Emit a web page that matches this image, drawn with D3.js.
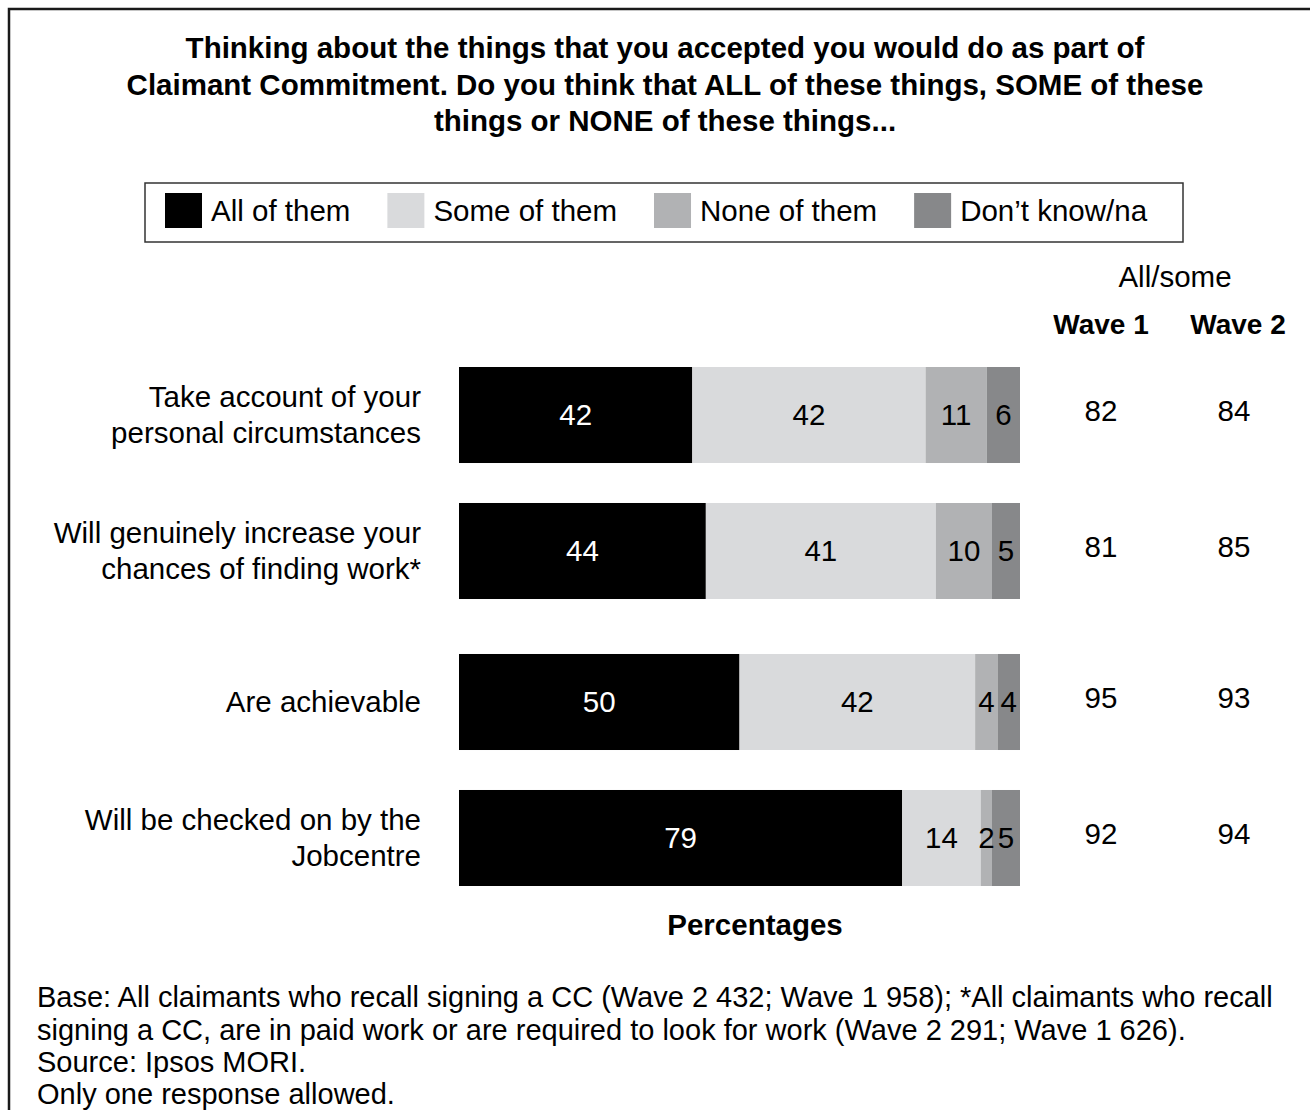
<!DOCTYPE html>
<html>
<head>
<meta charset="utf-8">
<script src="https://cdn.jsdelivr.net/npm/d3@7"></script>
<style>
  html, body { margin: 0; padding: 0; background: #fff; }
  svg { display: block; }
  text { font-family: "Liberation Sans", Arial, Helvetica, sans-serif; fill: #000; }
</style>
</head>
<body>
<svg id="chart" width="1310" height="1110"></svg>
<script>
// ---- data ----
const titleLines = [
  "Thinking about the things that you accepted you would do as part of",
  "Claimant Commitment. Do you think that ALL of these things, SOME of these",
  "things or NONE of these things..."
];
const categoryLines = [
  ["Take account of your", "personal circumstances"],
  ["Will genuinely increase your", "chances of finding work*"],
  ["Are achievable"],
  ["Will be checked on by the", "Jobcentre"]
];
const groups = ["a", "a", "b", "b"];
const seriesKeys = ["All of them", "Some of them", "None of them", "Don\u2019t know/na"];
const allOfThem  = [42, 44, 50, 79];
const someOfThem = [42, 41, 42, 14];
const noneOfThem = [11, 10, 4, 2];
const dontKnow   = [6, 5, 4, 5];
const wave1 = [82, 81, 95, 92];
const wave2 = [84, 85, 93, 94];
const waveHeaders = ["Wave 1", "Wave 2"];
const footnoteLines = [
  "Base: All claimants who recall signing a CC (Wave 2 432; Wave 1 958); *All claimants who recall",
  "signing a CC, are in paid work or are required to look for work (Wave 2 291; Wave 1 626).",
  "Source: Ipsos MORI.",
  "Only one response allowed."
];
const colours = ["#000000", "#d9dadc", "#b1b2b4", "#87888a"];

// ---- layout ----
const svg = d3.select("#chart");
const FS = 29.5;

// outer frame
svg.append("rect")
  .attr("x", 9).attr("y", 9).attr("width", 1400).attr("height", 1200)
  .attr("fill", "none").attr("stroke", "#1a1a1a").attr("stroke-width", 2.5);

// title
svg.append("g").selectAll("text").data(titleLines).join("text")
  .attr("x", 665).attr("y", (d, i) => 48 + i * 36.5)
  .attr("dy", "0.35em").attr("text-anchor", "middle")
  .attr("font-size", 29.5).attr("font-weight", "bold")
  .text(d => d);

// legend
const legend = svg.append("g");
legend.append("rect")
  .attr("x", 145).attr("y", 183).attr("width", 1038).attr("height", 59)
  .attr("fill", "none").attr("stroke", "#333").attr("stroke-width", 1.5);
let lx = 165;
seriesKeys.forEach((k, i) => {
  const g = legend.append("g").attr("transform", `translate(${lx},0)`);
  g.append("rect").attr("x", 0).attr("y", 193).attr("width", 37).attr("height", 35)
    .attr("fill", colours[i]);
  const t = g.append("text").attr("x", 46).attr("y", 211).attr("dy", "0.35em")
    .attr("font-size", FS).text(k);
  lx += 46 + t.node().getComputedTextLength() + 37;
});

// rows as records for the stack
const rows = categoryLines.map((c, i) => ({
  idx: i,
  group: groups[i],
  [seriesKeys[0]]: allOfThem[i],
  [seriesKeys[1]]: someOfThem[i],
  [seriesKeys[2]]: noneOfThem[i],
  [seriesKeys[3]]: dontKnow[i]
}));

const stacked = d3.stack().keys(seriesKeys).offset(d3.stackOffsetExpand)(rows);

const x = d3.scaleLinear().domain([0, 1]).range([459, 1020]);

// two groups of two bars, with a wider gap between the groups
const yGroup = d3.scaleBand().domain(["a", "b"]).range([367, 886]).paddingInner(0.1916);
const yInner = d3.scaleBand().domain([0, 1]).range([0, yGroup.bandwidth()]).paddingInner(0.294);
const yTop = i => yGroup(groups[i]) + yInner(groups.slice(0, i).filter(g => g === groups[i]).length);
const bh = yInner.bandwidth();

// bars
const layers = svg.append("g").selectAll("g").data(stacked).join("g")
  .attr("fill", (d, i) => colours[i]);
layers.selectAll("rect").data(d => d).join("rect")
  .attr("x", d => x(d[0]))
  .attr("y", d => yTop(d.data.idx))
  .attr("width", d => x(d[1]) - x(d[0]))
  .attr("height", bh);

// value labels inside the bars
const labels = svg.append("g");
stacked.forEach((layer, si) => {
  labels.selectAll(null).data(layer).join("text")
    .attr("x", d => (x(d[0]) + x(d[1])) / 2)
    .attr("y", d => yTop(d.data.idx) + bh / 2)
    .attr("dy", "0.35em").attr("text-anchor", "middle")
    .attr("font-size", FS)
    .style("fill", si === 0 ? "#fff" : "#000")
    .text(d => d.data[layer.key]);
});

// category labels
const cat = svg.append("g").selectAll("text").data(categoryLines).join("text")
  .attr("text-anchor", "end").attr("font-size", FS);
cat.each(function (lines, i) {
  const cy = yTop(i) + bh / 2;
  d3.select(this).selectAll("tspan").data(lines).join("tspan")
    .attr("x", 421)
    .attr("y", (d, j) => cy + (j - (lines.length - 1) / 2) * 36)
    .attr("dy", "0.35em")
    .text(d => d);
});

// all/some columns
const colX = [1101, 1234];
svg.append("text").attr("x", 1175).attr("y", 277).attr("dy", "0.35em")
  .attr("text-anchor", "middle").attr("font-size", FS).text("All/some");
svg.append("g").selectAll("text").data(waveHeaders).join("text")
  .attr("x", (d, i) => colX[i] + (i === 1 ? 4 : 0)).attr("y", 324).attr("dy", "0.35em")
  .attr("text-anchor", "middle").attr("font-size", 28).attr("font-weight", "bold")
  .text(d => d);
[wave1, wave2].forEach((vals, w) => {
  svg.append("g").selectAll("text").data(vals).join("text")
    .attr("x", colX[w])
    .attr("y", (d, i) => yTop(i) + bh / 2 - 4)
    .attr("dy", "0.35em").attr("text-anchor", "middle").attr("font-size", FS)
    .text(d => d);
});

// axis caption
svg.append("text").attr("x", 755).attr("y", 925).attr("dy", "0.35em")
  .attr("text-anchor", "middle").attr("font-size", FS).attr("font-weight", "bold")
  .text("Percentages");

// footnote
svg.append("g").selectAll("text").data(footnoteLines).join("text")
  .attr("x", 37).attr("y", (d, i) => 997 + i * 32.4)
  .attr("dy", "0.35em").attr("font-size", 29)
  .text(d => d);
</script>
</body>
</html>
